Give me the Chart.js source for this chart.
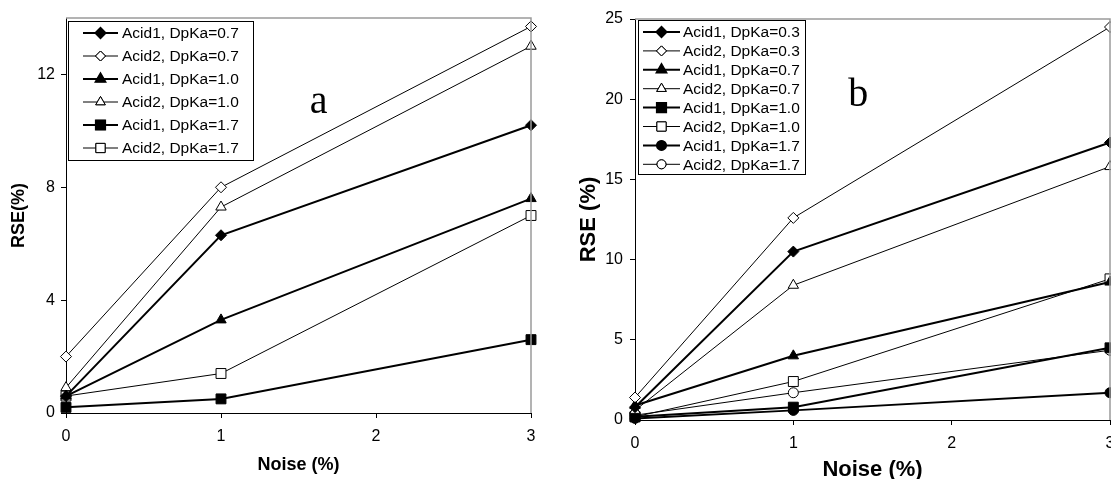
<!DOCTYPE html>
<html>
<head>
<meta charset="utf-8">
<script src="https://cdn.jsdelivr.net/npm/chart.js@4/dist/chart.umd.min.js"></script>
<style>
  html, body { margin: 0; padding: 0; background: #fff; overflow: hidden; }
  #wrap { position: relative; width: 1111px; height: 479px; overflow: hidden; }
  #chartA { position: absolute; left: 0; top: 0; }
  #chartB { position: absolute; left: 560px; top: 0; }
</style>
</head>
<body>
<div id="wrap">
  <canvas id="chartA" width="560" height="479"></canvas>
  <canvas id="chartB" width="580" height="479"></canvas>
</div>
<script>
// x values (noise %) and tick labels
const noise = [0, 1, 3];
const xTicks = [0, 1, 2, 3];
const yTicksA = [0, 4, 8, 12];
const yTicksB = [0, 5, 10, 15, 20, 25];

// panel a
const labelsA = ['Acid1, DpKa=0.7', 'Acid2, DpKa=0.7', 'Acid1, DpKa=1.0', 'Acid2, DpKa=1.0', 'Acid1, DpKa=1.7', 'Acid2, DpKa=1.7'];
const aAcid1_07 = [0.6, 6.3, 10.2];
const aAcid2_07 = [2.0, 8.0, 13.7];
const aAcid1_10 = [0.6, 3.3, 7.6];
const aAcid2_10 = [0.9, 7.3, 13.0];
const aAcid1_17 = [0.2, 0.5, 2.6];
const aAcid2_17 = [0.6, 1.4, 7.0];

// panel b
const labelsB = ['Acid1, DpKa=0.3', 'Acid2, DpKa=0.3', 'Acid1, DpKa=0.7', 'Acid2, DpKa=0.7', 'Acid1, DpKa=1.0', 'Acid2, DpKa=1.0', 'Acid1, DpKa=1.7', 'Acid2, DpKa=1.7'];
const bAcid1_03 = [0.8, 10.5, 17.3];
const bAcid2_03 = [1.4, 12.6, 24.5];
const bAcid1_07 = [0.9, 4.0, 8.6];
const bAcid2_07 = [0.6, 8.4, 15.8];
const bAcid1_10 = [0.2, 0.8, 4.5];
const bAcid2_10 = [0.2, 2.4, 8.8];
const bAcid1_17 = [0.1, 0.6, 1.7];
const bAcid2_17 = [0.3, 1.7, 4.35];

const SANS = "'Liberation Sans', Arial, sans-serif";
const SERIF = "'Liberation Serif', 'Times New Roman', serif";

const pointSizes = { rectRot: 5.5, triangle: 6, rect: 7, circle: 5 };

function makeDataset(label, values, shape, filled) {
  return {
    label: label,
    data: values.map((v, i) => ({ x: noise[i], y: v })),
    showLine: true,
    borderColor: '#000',
    borderWidth: filled ? 2 : 1,
    pointStyle: shape,
    pointRadius: pointSizes[shape],
    pointBackgroundColor: filled ? '#000' : '#fff',
    pointBorderColor: '#000',
    pointBorderWidth: 1,
    clip: false,
  };
}

// gray top/right frame, in-plot legend and panel letter
const framePlugin = {
  id: 'frameAndLegend',
  afterDraw(chart, args, opts) {
    const ctx = chart.ctx;
    const area = chart.chartArea;
    ctx.save();
    ctx.strokeStyle = '#9a9a9a';
    ctx.lineWidth = 1.5;
    ctx.beginPath();
    ctx.moveTo(area.left, area.top);
    ctx.lineTo(area.right, area.top);
    ctx.lineTo(area.right, area.bottom);
    ctx.stroke();

    // legend box
    const lg = opts.legend;
    ctx.fillStyle = '#fff';
    ctx.fillRect(lg.x, lg.y, lg.w, lg.h);
    ctx.strokeStyle = '#000';
    ctx.lineWidth = 1;
    ctx.strokeRect(lg.x + 0.5, lg.y + 0.5, lg.w, lg.h);
    ctx.font = lg.fontSize + 'px ' + SANS;
    ctx.textBaseline = 'middle';
    chart.data.datasets.forEach((ds, i) => {
      const cy = lg.y + lg.first + i * lg.step;
      ctx.strokeStyle = '#000';
      ctx.lineWidth = ds.borderWidth;
      ctx.beginPath();
      ctx.moveTo(lg.x + lg.lineX0, cy);
      ctx.lineTo(lg.x + lg.lineX1, cy);
      ctx.stroke();
      Chart.helpers.drawPoint(ctx, {
        pointStyle: ds.pointStyle,
        radius: ds.pointRadius - 0.5,
        rotation: 0,
        borderWidth: 1,
      }, lg.x + (lg.lineX0 + lg.lineX1) / 2, cy);
      ctx.fillStyle = ds.pointBackgroundColor;
      ctx.fill();
      ctx.strokeStyle = '#000';
      ctx.lineWidth = 1;
      ctx.stroke();
      ctx.fillStyle = '#000';
      ctx.fillText(ds.label, lg.x + lg.textX, cy + 1);
    });

    // panel letter
    ctx.font = opts.letterSize + 'px ' + SERIF;
    ctx.textAlign = 'center';
    ctx.fillStyle = '#000';
    ctx.fillText(opts.letter, chart.scales.x.getPixelForValue(opts.letterX), chart.scales.y.getPixelForValue(opts.letterY));
    ctx.restore();
  }
};

function makeOptions(cfg) {
  return {
    responsive: false,
    animation: false,
    layout: { padding: { left: 0, top: cfg.top, right: cfg.right, bottom: 0 } },
    plugins: {
      legend: { display: false },
      tooltip: { enabled: false },
      frameAndLegend: cfg.extra,
    },
    scales: {
      x: {
        type: 'linear',
        min: 0,
        max: 3,
        afterBuildTicks: (s) => { s.ticks = xTicks.map(v => ({ value: v })); },
        afterFit: (s) => { s.height = cfg.xHeight; },
        grid: { drawOnChartArea: false, drawTicks: true, tickLength: 5, color: '#000' },
        border: { color: '#000', width: 1 },
        ticks: { color: '#000', font: { family: SANS, size: cfg.tickSize }, padding: cfg.xPad, maxRotation: 0 },
        title: { display: true, text: 'Noise (%)', color: '#000', font: { family: SANS, size: cfg.titleSize, weight: 'bold' }, padding: { top: 4, bottom: cfg.xTitleBottom } },
      },
      y: {
        type: 'linear',
        min: 0,
        max: cfg.yMax,
        afterBuildTicks: (s) => { s.ticks = cfg.yTicks.map(v => ({ value: v })); },
        afterFit: (s) => { s.width = cfg.yWidth; },
        grid: { drawOnChartArea: false, drawTicks: true, tickLength: 5, color: '#000' },
        border: { color: '#000', width: 1 },
        ticks: { color: '#000', font: { family: SANS, size: cfg.tickSize }, padding: cfg.yPad },
        title: { display: true, text: cfg.yTitle, color: '#000', font: { family: SANS, size: cfg.titleSize, weight: 'bold' }, padding: { top: cfg.yTitleLeft, bottom: 0 } },
      },
    },
  };
}

const shapesA = ['rectRot', 'rectRot', 'triangle', 'triangle', 'rect', 'rect'];
const valuesA = [aAcid1_07, aAcid2_07, aAcid1_10, aAcid2_10, aAcid1_17, aAcid2_17];

new Chart(document.getElementById('chartA'), {
  type: 'scatter',
  data: {
    datasets: valuesA.map((vals, i) => makeDataset(labelsA[i], vals, shapesA[i], i % 2 === 0)),
  },
  options: makeOptions({
    top: 18, right: 29, xHeight: 66, yWidth: 66, yMax: 14, yTicks: yTicksA,
    tickSize: 16, titleSize: 18, xPad: 9, xTitleBottom: 3, yTitle: 'RSE(%)', yTitleLeft: 8, yPad: 6,
    extra: {
      legend: { x: 68, y: 21, w: 185, h: 139, first: 12, step: 23, lineX0: 15, lineX1: 50, textX: 54, fontSize: 15.5 },
      letter: 'a', letterSize: 40, letterX: 1.63, letterY: 11.0,
    },
  }),
  plugins: [framePlugin],
});

const shapesB = ['rectRot', 'rectRot', 'triangle', 'triangle', 'rect', 'rect', 'circle', 'circle'];
const valuesB = [bAcid1_03, bAcid2_03, bAcid1_07, bAcid2_07, bAcid1_10, bAcid2_10, bAcid1_17, bAcid2_17];

new Chart(document.getElementById('chartB'), {
  type: 'scatter',
  data: {
    datasets: valuesB.map((vals, i) => makeDataset(labelsB[i], vals, shapesB[i], i % 2 === 0)),
  },
  options: makeOptions({
    top: 19, right: 30, xHeight: 59, yWidth: 75, yMax: 25, yTicks: yTicksB,
    tickSize: 16, titleSize: 22, xPad: 9, xTitleBottom: -4, yTitle: 'RSE (%)', yTitleLeft: 16, yPad: 7,
    extra: {
      legend: { x: 78, y: 20, w: 167, h: 154, first: 12, step: 18.9, lineX0: 5, lineX1: 42, textX: 45, fontSize: 15.5 },
      letter: 'b', letterSize: 40, letterX: 1.41, letterY: 20.2,
    },
  }),
  plugins: [framePlugin],
});
</script>
</body>
</html>
